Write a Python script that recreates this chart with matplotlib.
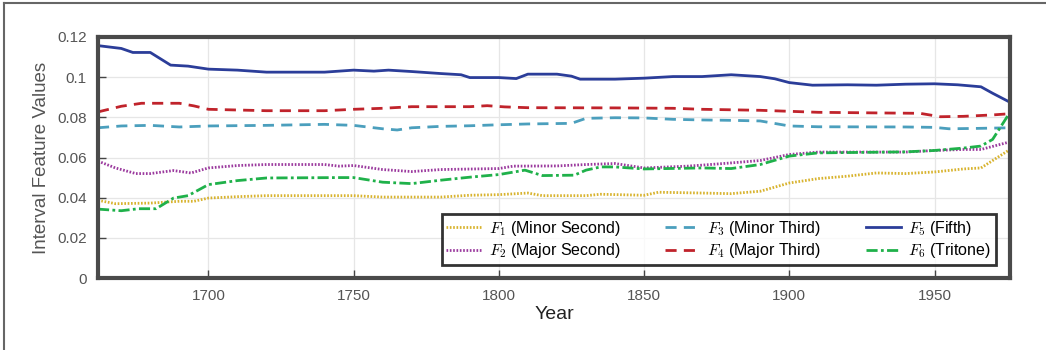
import matplotlib
matplotlib.use('Agg')
import matplotlib.pyplot as plt
from matplotlib.lines import Line2D

plt.rcParams['font.family'] = ['Liberation Sans', 'DejaVu Sans']
plt.rcParams['mathtext.fontset'] = 'cm'

# F1 (Minor Second)
f1_years = [1662, 1668, 1680, 1690, 1695, 1700, 1710, 1720, 1750, 1760, 1780, 1790, 1800,
            1810, 1815, 1830, 1835, 1850, 1855, 1870, 1880, 1890, 1900, 1910, 1920, 1930,
            1940, 1950, 1960, 1966, 1976]
f1_vals = [0.0387, 0.037, 0.0373, 0.0382, 0.0382, 0.0398, 0.0405, 0.041, 0.041, 0.0403, 0.0403,
           0.0412, 0.0415, 0.0423, 0.041, 0.041, 0.0417, 0.0412, 0.0427, 0.0423, 0.042, 0.0432,
           0.0473, 0.0495, 0.0507, 0.0523, 0.052, 0.0528, 0.0543, 0.0548, 0.064]

# F2 (Major Second)
f2_years = [1662, 1668, 1675, 1680, 1688, 1694, 1700, 1710, 1720, 1740, 1745, 1750, 1760,
            1770, 1780, 1800, 1805, 1820, 1830, 1840, 1850, 1865, 1870, 1880, 1890, 1900,
            1910, 1940, 1950, 1960, 1966, 1976]
f2_vals = [0.0582, 0.0548, 0.052, 0.052, 0.0535, 0.0523, 0.0548, 0.056, 0.0565, 0.0565, 0.0557,
           0.056, 0.054, 0.053, 0.054, 0.0545, 0.0557, 0.0558, 0.0565, 0.057, 0.0548, 0.0557,
           0.0562, 0.0573, 0.0585, 0.0615, 0.0627, 0.0627, 0.0635, 0.064, 0.064, 0.0678]

# F3 (Minor Third)
f3_years = [1662, 1670, 1680, 1690, 1700, 1720, 1740, 1750, 1760, 1765, 1770, 1780, 1790,
            1800, 1810, 1825, 1830, 1840, 1850, 1860, 1870, 1880, 1890, 1900, 1910, 1940,
            1950, 1955, 1965, 1976]
f3_vals = [0.0748, 0.0757, 0.076, 0.0752, 0.0757, 0.076, 0.0765, 0.076, 0.0743, 0.0737, 0.0748,
           0.0755, 0.0758, 0.0763, 0.0767, 0.077, 0.0795, 0.0798, 0.0797, 0.079, 0.0787, 0.0785,
           0.0782, 0.0757, 0.0753, 0.0752, 0.075, 0.0743, 0.0745, 0.0748]

# F4 (Major Third)
f4_years = [1662, 1670, 1677, 1690, 1695, 1700, 1720, 1740, 1750, 1760, 1770, 1790, 1796,
            1802, 1810, 1840, 1860, 1870, 1890, 1900, 1910, 1930, 1945, 1952, 1960, 1970, 1976]
f4_vals = [0.0827, 0.0855, 0.087, 0.087, 0.0857, 0.084, 0.0833, 0.0833, 0.084, 0.0845, 0.0853,
           0.0853, 0.0858, 0.0852, 0.0848, 0.0847, 0.0845, 0.084, 0.0835, 0.083, 0.0825, 0.0822,
           0.082, 0.0803, 0.0805, 0.0812, 0.0818]

# F5 (Fifth)
f5_years = [1662, 1670, 1674, 1680, 1687, 1693, 1700, 1710, 1720, 1740, 1750, 1757, 1762,
            1770, 1780, 1787, 1790, 1800, 1806, 1810, 1820, 1825, 1828, 1840, 1850, 1860,
            1870, 1880, 1890, 1895, 1900, 1908, 1920, 1930, 1940, 1950, 1958, 1966, 1970, 1976]
f5_vals = [0.1157, 0.1143, 0.1123, 0.1123, 0.106, 0.1055, 0.104, 0.1035, 0.1025, 0.1025, 0.1035,
           0.103, 0.1035, 0.1028, 0.1018, 0.1012, 0.0998, 0.0998, 0.0993, 0.1015, 0.1015, 0.1005,
           0.099, 0.099, 0.0995, 0.1003, 0.1003, 0.1012, 0.1003, 0.0992, 0.0973, 0.096, 0.0962,
           0.096, 0.0965, 0.0967, 0.0962, 0.0952, 0.092, 0.0875]

# F6 (Tritone)
f6_years = [1662, 1670, 1676, 1682, 1688, 1693, 1700, 1710, 1720, 1745, 1750, 1760, 1770,
            1780, 1790, 1800, 1809, 1815, 1826, 1830, 1835, 1840, 1850, 1870, 1880, 1890,
            1900, 1910, 1940, 1950, 1960, 1966, 1970, 1976]
f6_vals = [0.0343, 0.0335, 0.0345, 0.0345, 0.0398, 0.041, 0.0465, 0.0485, 0.0498, 0.05, 0.05,
           0.0477, 0.047, 0.0487, 0.0502, 0.0515, 0.0537, 0.051, 0.0512, 0.0537, 0.0553, 0.0553,
           0.0543, 0.0548, 0.0545, 0.0565, 0.0607, 0.0623, 0.0628, 0.0635, 0.0647, 0.0657,
           0.069, 0.0825]

fig = plt.figure(figsize=(10.46, 3.5), dpi=100)
ax = fig.add_axes([0.0937, 0.2057, 0.8719, 0.6886])

lw = 2.0
ax.plot(f1_years, f1_vals, color='#d8b32e', lw=lw, ls=(0, (0.6, 0.6)), label=r'$F_1$ (Minor Second)')
ax.plot(f2_years, f2_vals, color='#9b3a9e', lw=lw, ls=(0, (0.6, 0.6)), label=r'$F_2$ (Major Second)')
ax.plot(f3_years, f3_vals, color='#4b9fbd', lw=lw, ls=(0, (4, 2.6)), label=r'$F_3$ (Minor Third)')
ax.plot(f4_years, f4_vals, color='#c0232b', lw=lw, ls=(0, (4, 2.6)), label=r'$F_4$ (Major Third)')
ax.plot(f5_years, f5_vals, color='#2b3d99', lw=lw, ls='-', label=r'$F_5$ (Fifth)')
ax.plot(f6_years, f6_vals, color='#1fb14a', lw=lw, ls=(0, (4, 1.2, 1, 1.2)), label=r'$F_6$ (Tritone)')

ax.set_xlim(1662, 1976)
ax.set_ylim(0, 0.12)
ax.set_xticks([1700, 1750, 1800, 1850, 1900, 1950])
ax.set_yticks([0, 0.02, 0.04, 0.06, 0.08, 0.1, 0.12])
ax.set_yticklabels(['0', '0.02', '0.04', '0.06', '0.08', '0.1', '0.12'])
ax.grid(True, color='#e6e6e6', lw=0.9)
ax.set_axisbelow(True)
ax.tick_params(direction='in', length=6, width=1, color='#444444',
               labelcolor='#555555', labelsize=11, pad=8)
for s in ax.spines.values():
    s.set_linewidth(3)
    s.set_color('#4a4a4a')

ax.set_xlabel('Year', fontsize=14, color='#222222', labelpad=2)
ax.set_ylabel('Interval Feature Values', fontsize=13.5, color='#555555', labelpad=5)

leg = ax.legend(ncol=3, loc='lower right', bbox_to_anchor=(0.9846, 0.054),
                fontsize=11.5, frameon=True, fancybox=False, edgecolor='black',
                handlelength=2.2, columnspacing=2.8, handletextpad=0.45,
                borderpad=0.3, labelspacing=0.2, borderaxespad=0)
leg.get_frame().set_linewidth(2)

# outer frame
fig.add_artist(Line2D([0.004, 0.004], [0, 0.992], transform=fig.transFigure, color='#666666', lw=1.5))
fig.add_artist(Line2D([0.004, 1], [0.992, 0.992], transform=fig.transFigure, color='#666666', lw=1.5))

fig.savefig('out.png', dpi=100)
